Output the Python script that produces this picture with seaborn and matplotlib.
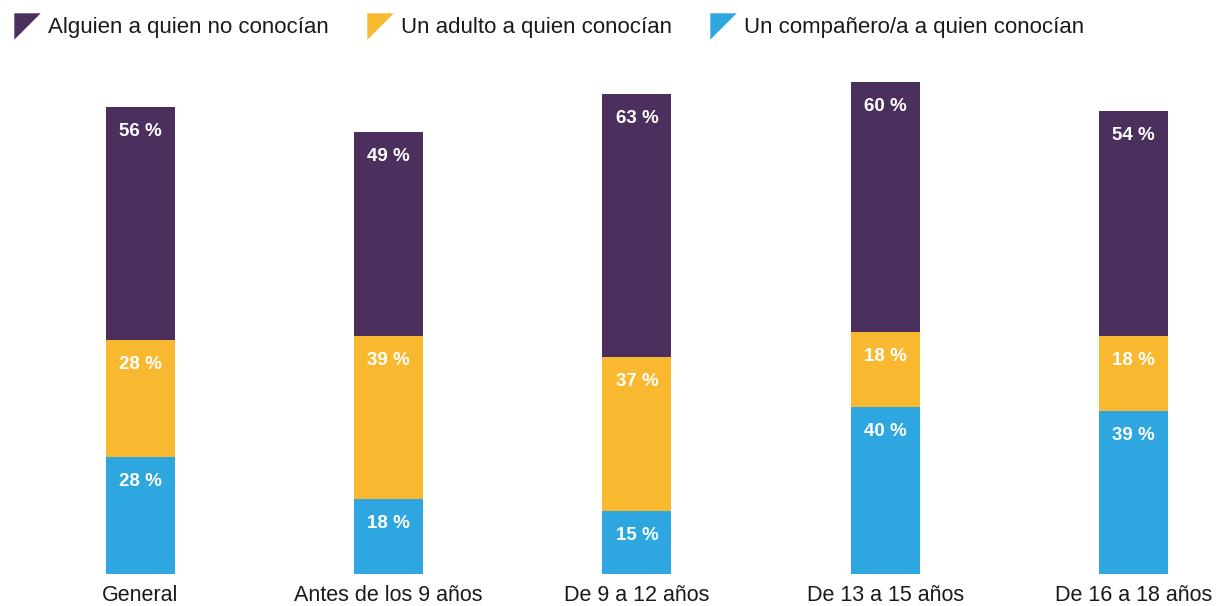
import matplotlib
matplotlib.use("Agg")
import matplotlib.pyplot as plt
import numpy as np
import pandas as pd
import seaborn as sns
from matplotlib.lines import Line2D
from matplotlib.path import Path

GROUPS = ["General", "Antes de los 9 años", "De 9 a 12 años", "De 13 a 15 años", "De 16 a 18 años"]
COMPANERO = [28, 18, 15, 40, 39]
ADULTO = [28, 39, 37, 18, 18]
DESCONOCIDO = [56, 49, 63, 60, 54]

SERIES = [
    ("Un compañero/a a quien conocían", COMPANERO, "#2EA6DF"),
    ("Un adulto a quien conocían", ADULTO, "#F8B930"),
    ("Alguien a quien no conocían", DESCONOCIDO, "#4B305E"),
]

sns.set_theme(style="white")
plt.rcParams["font.family"] = ["Liberation Sans", "DejaVu Sans"]

fig = plt.figure(figsize=(12.18, 6.06), dpi=100)
ax = fig.add_axes([0, 32 / 606, 1, (574 - 60) / 606])

step = 248.25  # pixels between bar centres
data = pd.DataFrame({"grupo": GROUPS})
bottom = np.zeros(len(GROUPS))
for name, values, color in SERIES:
    data["valor"] = values
    sns.barplot(data=data, x="grupo", y="valor", color=color, width=69 / step,
                bottom=bottom, saturation=1, ax=ax, linewidth=0, errorbar=None)
    for i, v in enumerate(values):
        ax.annotate(f"{v} %", (i, bottom[i] + v), xytext=(0, -17.5),
                    textcoords="offset points", ha="center", va="center",
                    color="white", fontsize=13.5, fontweight="bold")
    bottom = bottom + np.array(values)

ax.set_xlim(-140.5 / step, (1218 - 140.5) / step)
ax.set_ylim(0, (574 - 60) / 4.17)
ax.set_xlabel("")
ax.set_ylabel("")
ax.set_yticks([])
ax.tick_params(axis="x", length=0, pad=8, labelsize=15.5, colors="#1a1a1a")
sns.despine(ax=ax, left=True, bottom=True)

tri = Path([(-1, 1), (1, 1), (-1, -1), (-1, 1)], [Path.MOVETO, Path.LINETO, Path.LINETO, Path.CLOSEPOLY])
handles = [Line2D([], [], marker=tri, markersize=19, linestyle="none", color=c, markeredgewidth=0)
           for _, _, c in SERIES[::-1]]
labels = [n for n, _, _ in SERIES[::-1]]
fig.legend(handles, labels, loc="upper left", bbox_to_anchor=(0.0, 1 - 4 / 606), ncol=3,
           frameon=False, fontsize=16, handlelength=1.2, handletextpad=0.35, columnspacing=1.7,
           borderaxespad=0, borderpad=0.6, labelcolor="#1a1a1a")

fig.savefig("out.png", dpi=100)
